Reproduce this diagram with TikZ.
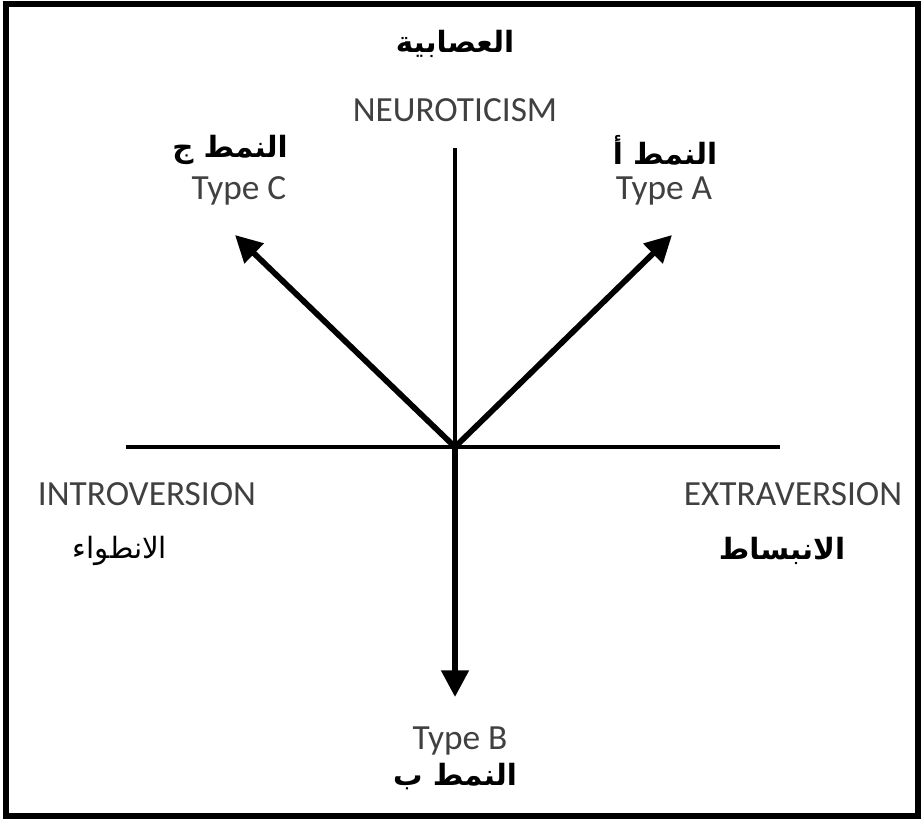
\documentclass[tikz,border=0pt]{standalone}
\usepackage{fontspec}
\usetikzlibrary{arrows.meta}
\TeXXeTstate=1
\setmainfont{Carlito}
\newfontfamily\arabicfont[Script=Arabic]{DejaVu Sans}
\definecolor{latgray}{HTML}{404040}
\tikzset{
  axis/.style={line width=3.4pt, black},
  arr/.style={line width=4.3pt, black, -{Triangle[length=20pt,width=20pt]}},
  lat/.style={text=latgray, font=\fontsize{26.5}{30}\selectfont, inner sep=0pt},
  arb/.style={text=black, font=\arabicfont\bfseries\fontsize{22}{26}\selectfont, inner sep=0pt},
  arn/.style={text=black, font=\arabicfont\fontsize{22}{26}\selectfont, inner sep=0pt},
}
\begin{document}
\begin{tikzpicture}[x=0.75pt,y=-0.75pt]
\useasboundingbox (0,0) rectangle (923,818);
\draw[line width=4pt] (6,4) rectangle (918,816);
\coordinate (o) at (455,447);
\coordinate (nt) at (455,148);
\coordinate (hl) at (126,447);
\coordinate (hr) at (780,447);
\coordinate (ta) at (672,235);
\coordinate (tc) at (235,235);
\coordinate (tb) at (455,697);
\draw[axis] (hl) -- (hr);
\draw[axis] (nt) -- (o);
\draw[arr] (o) -- (ta);
\draw[arr] (o) -- (tc);
\draw[arr] (o) -- (tb);
\node[arb] (neuar) at (455,44) {\beginR العصابية\endR};
\node[lat] (neu) at (455,110) {NEUROTICISM};
\node[arb] (cAr) at (230,150) {\beginR النمط ج\endR};
\node[lat] (cL) at (239,191) {Type C};
\node[arb] (aAr) at (665,150) {\beginR النمط أ\endR};
\node[lat] (aL) at (664,191) {Type A};
\node[lat] (intro) at (147,494) {INTROVERSION};
\node[arn] (introAr) at (120,551) {\beginR الانطواء\endR};
\node[lat] (extra) at (793,494) {EXTRAVERSION};
\node[arb] (extraAr) at (782,551) {\beginR الانبساط\endR};
\node[lat] (bL) at (460,741) {Type B};
\node[arb] (bAr) at (455,777) {\beginR النمط ب\endR};
\end{tikzpicture}
\end{document}
